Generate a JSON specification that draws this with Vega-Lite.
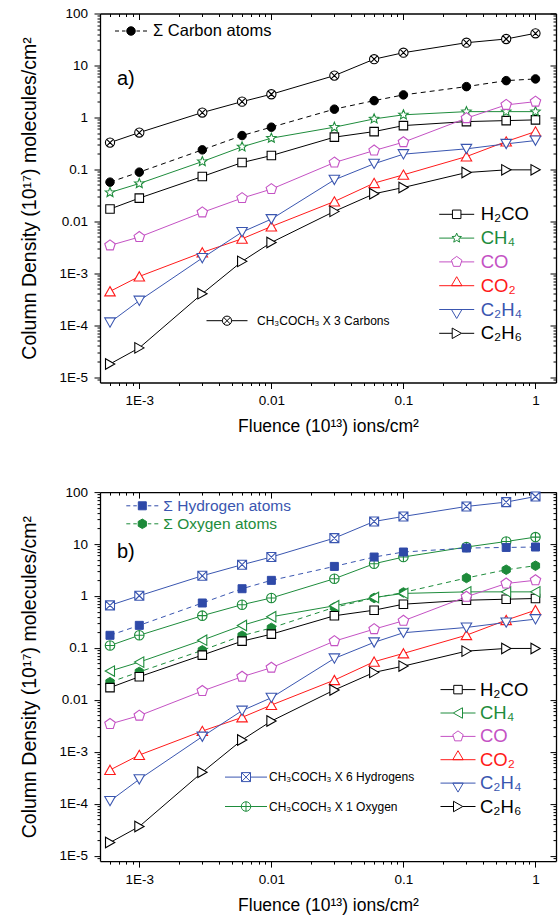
{
  "$schema": "https://vega.github.io/schema/vega-lite/v6.json",
  "padding": {"left": 19, "top": 6.5, "right": 1, "bottom": 5},
  "bounds": "flush",
  "spacing": 109.6,
  "config": {
    "view": {"stroke": null},
    "font": "Liberation Sans",
    "axis": {"domainColor": "#000000", "domainWidth": 1.3, "tickColor": "#000000", "tickWidth": 1, "grid": false, "labelFont": "Liberation Sans", "labelFontSize": 13.5, "labelColor": "#000000", "titleFont": "Liberation Sans", "titleFontSize": 19.5, "titleFontWeight": "normal", "titleColor": "#000000", "labelFlush": false, "labelOverlap": false, "labelBound": false},
    "legend": {"labelFont": "Liberation Sans", "labelColor": "#000000", "padding": 0, "labelLimit": 400, "title": null, "orient": "none", "symbolSize": 100, "symbolStrokeWidth": 1}
  },
  "datasets": {
    "pa": [
      {"g":"mol","s":"H₂CO","x":0.0006,"y":0.0172},{"g":"mol","s":"H₂CO","x":0.001,"y":0.0279},{"g":"mol","s":"H₂CO","x":0.003,"y":0.0727},{"g":"mol","s":"H₂CO","x":0.006,"y":0.135},{"g":"mol","s":"H₂CO","x":0.01,"y":0.184},{"g":"mol","s":"H₂CO","x":0.03,"y":0.416},{"g":"mol","s":"H₂CO","x":0.06,"y":0.533},{"g":"mol","s":"H₂CO","x":0.1,"y":0.695},{"g":"mol","s":"H₂CO","x":0.3,"y":0.83},{"g":"mol","s":"H₂CO","x":0.6,"y":0.867},{"g":"mol","s":"H₂CO","x":1,"y":0.895},
      {"g":"mol","s":"CH₄","x":0.0006,"y":0.0358},{"g":"mol","s":"CH₄","x":0.001,"y":0.0533},{"g":"mol","s":"CH₄","x":0.003,"y":0.141},{"g":"mol","s":"CH₄","x":0.006,"y":0.271},{"g":"mol","s":"CH₄","x":0.01,"y":0.398},{"g":"mol","s":"CH₄","x":0.03,"y":0.648},{"g":"mol","s":"CH₄","x":0.06,"y":0.935},{"g":"mol","s":"CH₄","x":0.1,"y":1.12},{"g":"mol","s":"CH₄","x":0.3,"y":1.29},{"g":"mol","s":"CH₄","x":0.6,"y":1.29},{"g":"mol","s":"CH₄","x":1,"y":1.29},
      {"g":"mol","s":"CO","x":0.0006,"y":0.00343},{"g":"mol","s":"CO","x":0.001,"y":0.00497},{"g":"mol","s":"CO","x":0.003,"y":0.0148},{"g":"mol","s":"CO","x":0.006,"y":0.0279},{"g":"mol","s":"CO","x":0.01,"y":0.0416},{"g":"mol","s":"CO","x":0.03,"y":0.135},{"g":"mol","s":"CO","x":0.06,"y":0.23},{"g":"mol","s":"CO","x":0.1,"y":0.333},{"g":"mol","s":"CO","x":0.3,"y":0.966},{"g":"mol","s":"CO","x":0.6,"y":1.74},{"g":"mol","s":"CO","x":1,"y":2.01},
      {"g":"mol","s":"CO₂","x":0.0006,"y":0.000447},{"g":"mol","s":"CO₂","x":0.001,"y":0.000867},{"g":"mol","s":"CO₂","x":0.003,"y":0.00251},{"g":"mol","s":"CO₂","x":0.006,"y":0.0046},{"g":"mol","s":"CO₂","x":0.01,"y":0.00794},{"g":"mol","s":"CO₂","x":0.03,"y":0.024},{"g":"mol","s":"CO₂","x":0.06,"y":0.0543},{"g":"mol","s":"CO₂","x":0.1,"y":0.0784},{"g":"mol","s":"CO₂","x":0.3,"y":0.176},{"g":"mol","s":"CO₂","x":0.6,"y":0.343},{"g":"mol","s":"CO₂","x":1,"y":0.533},
      {"g":"mol","s":"C₂H₄","x":0.0006,"y":0.000113},{"g":"mol","s":"C₂H₄","x":0.001,"y":0.000296},{"g":"mol","s":"C₂H₄","x":0.003,"y":0.00196},{"g":"mol","s":"C₂H₄","x":0.006,"y":0.0062},{"g":"mol","s":"C₂H₄","x":0.01,"y":0.011},{"g":"mol","s":"C₂H₄","x":0.03,"y":0.0628},{"g":"mol","s":"C₂H₄","x":0.06,"y":0.128},{"g":"mol","s":"C₂H₄","x":0.1,"y":0.196},{"g":"mol","s":"C₂H₄","x":0.3,"y":0.248},{"g":"mol","s":"C₂H₄","x":0.6,"y":0.309},{"g":"mol","s":"C₂H₄","x":1,"y":0.358},
      {"g":"mol","s":"C₂H₆","x":0.0006,"y":0.0000179},{"g":"mol","s":"C₂H₆","x":0.001,"y":0.0000365},{"g":"mol","s":"C₂H₆","x":0.003,"y":0.000404},{"g":"mol","s":"C₂H₆","x":0.006,"y":0.00169},{"g":"mol","s":"C₂H₆","x":0.01,"y":0.00391},{"g":"mol","s":"C₂H₆","x":0.03,"y":0.0155},{"g":"mol","s":"C₂H₆","x":0.06,"y":0.0338},{"g":"mol","s":"C₂H₆","x":0.1,"y":0.0447},{"g":"mol","s":"C₂H₆","x":0.3,"y":0.0867},{"g":"mol","s":"C₂H₆","x":0.6,"y":0.0977},{"g":"mol","s":"C₂H₆","x":1,"y":0.0977},
      {"g":"sum","s":"Σ Carbon atoms","x":0.0006,"y":0.0567},{"g":"sum","s":"Σ Carbon atoms","x":0.001,"y":0.0883},{"g":"sum","s":"Σ Carbon atoms","x":0.003,"y":0.237},{"g":"sum","s":"Σ Carbon atoms","x":0.006,"y":0.447},{"g":"sum","s":"Σ Carbon atoms","x":0.01,"y":0.648},{"g":"sum","s":"Σ Carbon atoms","x":0.03,"y":1.44},{"g":"sum","s":"Σ Carbon atoms","x":0.06,"y":2.1},{"g":"sum","s":"Σ Carbon atoms","x":0.1,"y":2.71},{"g":"sum","s":"Σ Carbon atoms","x":0.3,"y":3.91},{"g":"sum","s":"Σ Carbon atoms","x":0.6,"y":5.1},{"g":"sum","s":"Σ Carbon atoms","x":1,"y":5.5},
      {"g":"ac","s":"CH₃COCH₃  X 3 Carbons","x":0.0006,"y":0.327},{"g":"ac","s":"CH₃COCH₃  X 3 Carbons","x":0.001,"y":0.51},{"g":"ac","s":"CH₃COCH₃  X 3 Carbons","x":0.003,"y":1.24},{"g":"ac","s":"CH₃COCH₃  X 3 Carbons","x":0.006,"y":2.01},{"g":"ac","s":"CH₃COCH₃  X 3 Carbons","x":0.01,"y":2.79},{"g":"ac","s":"CH₃COCH₃  X 3 Carbons","x":0.03,"y":6.37},{"g":"ac","s":"CH₃COCH₃  X 3 Carbons","x":0.06,"y":13.2},{"g":"ac","s":"CH₃COCH₃  X 3 Carbons","x":0.1,"y":17.6},{"g":"ac","s":"CH₃COCH₃  X 3 Carbons","x":0.3,"y":27.4},{"g":"ac","s":"CH₃COCH₃  X 3 Carbons","x":0.6,"y":32.3},{"g":"ac","s":"CH₃COCH₃  X 3 Carbons","x":1,"y":41.6}
    ],
    "pb": [
      {"g":"mol","s":"H₂CO","x":0.0006,"y":0.0172},{"g":"mol","s":"H₂CO","x":0.001,"y":0.0279},{"g":"mol","s":"H₂CO","x":0.003,"y":0.0727},{"g":"mol","s":"H₂CO","x":0.006,"y":0.135},{"g":"mol","s":"H₂CO","x":0.01,"y":0.184},{"g":"mol","s":"H₂CO","x":0.03,"y":0.416},{"g":"mol","s":"H₂CO","x":0.06,"y":0.533},{"g":"mol","s":"H₂CO","x":0.1,"y":0.695},{"g":"mol","s":"H₂CO","x":0.3,"y":0.83},{"g":"mol","s":"H₂CO","x":0.6,"y":0.867},{"g":"mol","s":"H₂CO","x":1,"y":0.895},
      {"g":"mol","s":"CH₄","x":0.0006,"y":0.0358},{"g":"mol","s":"CH₄","x":0.001,"y":0.0533},{"g":"mol","s":"CH₄","x":0.003,"y":0.141},{"g":"mol","s":"CH₄","x":0.006,"y":0.271},{"g":"mol","s":"CH₄","x":0.01,"y":0.398},{"g":"mol","s":"CH₄","x":0.03,"y":0.648},{"g":"mol","s":"CH₄","x":0.06,"y":0.935},{"g":"mol","s":"CH₄","x":0.1,"y":1.12},{"g":"mol","s":"CH₄","x":0.3,"y":1.2},{"g":"mol","s":"CH₄","x":0.6,"y":1.2},{"g":"mol","s":"CH₄","x":1,"y":1.2},
      {"g":"mol","s":"CO","x":0.0006,"y":0.00343},{"g":"mol","s":"CO","x":0.001,"y":0.00497},{"g":"mol","s":"CO","x":0.003,"y":0.0148},{"g":"mol","s":"CO","x":0.006,"y":0.0279},{"g":"mol","s":"CO","x":0.01,"y":0.0416},{"g":"mol","s":"CO","x":0.03,"y":0.135},{"g":"mol","s":"CO","x":0.06,"y":0.23},{"g":"mol","s":"CO","x":0.1,"y":0.333},{"g":"mol","s":"CO","x":0.3,"y":0.966},{"g":"mol","s":"CO","x":0.6,"y":1.74},{"g":"mol","s":"CO","x":1,"y":2.01},
      {"g":"mol","s":"CO₂","x":0.0006,"y":0.000447},{"g":"mol","s":"CO₂","x":0.001,"y":0.000867},{"g":"mol","s":"CO₂","x":0.003,"y":0.00251},{"g":"mol","s":"CO₂","x":0.006,"y":0.0046},{"g":"mol","s":"CO₂","x":0.01,"y":0.00794},{"g":"mol","s":"CO₂","x":0.03,"y":0.024},{"g":"mol","s":"CO₂","x":0.06,"y":0.0543},{"g":"mol","s":"CO₂","x":0.1,"y":0.0784},{"g":"mol","s":"CO₂","x":0.3,"y":0.176},{"g":"mol","s":"CO₂","x":0.6,"y":0.343},{"g":"mol","s":"CO₂","x":1,"y":0.533},
      {"g":"mol","s":"C₂H₄","x":0.0006,"y":0.000113},{"g":"mol","s":"C₂H₄","x":0.001,"y":0.000296},{"g":"mol","s":"C₂H₄","x":0.003,"y":0.00196},{"g":"mol","s":"C₂H₄","x":0.006,"y":0.0062},{"g":"mol","s":"C₂H₄","x":0.01,"y":0.011},{"g":"mol","s":"C₂H₄","x":0.03,"y":0.0628},{"g":"mol","s":"C₂H₄","x":0.06,"y":0.128},{"g":"mol","s":"C₂H₄","x":0.1,"y":0.196},{"g":"mol","s":"C₂H₄","x":0.3,"y":0.248},{"g":"mol","s":"C₂H₄","x":0.6,"y":0.309},{"g":"mol","s":"C₂H₄","x":1,"y":0.358},
      {"g":"mol","s":"C₂H₆","x":0.0006,"y":0.0000179},{"g":"mol","s":"C₂H₆","x":0.001,"y":0.0000365},{"g":"mol","s":"C₂H₆","x":0.003,"y":0.000404},{"g":"mol","s":"C₂H₆","x":0.006,"y":0.00169},{"g":"mol","s":"C₂H₆","x":0.01,"y":0.00391},{"g":"mol","s":"C₂H₆","x":0.03,"y":0.0155},{"g":"mol","s":"C₂H₆","x":0.06,"y":0.0338},{"g":"mol","s":"C₂H₆","x":0.1,"y":0.0447},{"g":"mol","s":"C₂H₆","x":0.3,"y":0.0867},{"g":"mol","s":"C₂H₆","x":0.6,"y":0.0977},{"g":"mol","s":"C₂H₆","x":1,"y":0.0977},
      {"g":"sum","s":"Σ Hydrogen atoms","x":0.0006,"y":0.175},{"g":"sum","s":"Σ Hydrogen atoms","x":0.001,"y":0.272},{"g":"sum","s":"Σ Hydrogen atoms","x":0.003,"y":0.733},{"g":"sum","s":"Σ Hydrogen atoms","x":0.006,"y":1.38},{"g":"sum","s":"Σ Hydrogen atoms","x":0.01,"y":2.0},{"g":"sum","s":"Σ Hydrogen atoms","x":0.03,"y":3.71},{"g":"sum","s":"Σ Hydrogen atoms","x":0.06,"y":5.62},{"g":"sum","s":"Σ Hydrogen atoms","x":0.1,"y":7.02},{"g":"sum","s":"Σ Hydrogen atoms","x":0.3,"y":8.38},{"g":"sum","s":"Σ Hydrogen atoms","x":0.6,"y":8.6},{"g":"sum","s":"Σ Hydrogen atoms","x":1,"y":8.76},
      {"g":"sum","s":"Σ Oxygen atoms","x":0.0006,"y":0.0219},{"g":"sum","s":"Σ Oxygen atoms","x":0.001,"y":0.0345},{"g":"sum","s":"Σ Oxygen atoms","x":0.003,"y":0.09},{"g":"sum","s":"Σ Oxygen atoms","x":0.006,"y":0.172},{"g":"sum","s":"Σ Oxygen atoms","x":0.01,"y":0.243},{"g":"sum","s":"Σ Oxygen atoms","x":0.03,"y":0.604},{"g":"sum","s":"Σ Oxygen atoms","x":0.06,"y":0.916},{"g":"sum","s":"Σ Oxygen atoms","x":0.1,"y":1.17},{"g":"sum","s":"Σ Oxygen atoms","x":0.3,"y":2.22},{"g":"sum","s":"Σ Oxygen atoms","x":0.6,"y":3.2},{"g":"sum","s":"Σ Oxygen atoms","x":1,"y":3.83},
      {"g":"ac","s":"CH₃COCH₃ X 6 Hydrogens","x":0.0006,"y":0.66},{"g":"ac","s":"CH₃COCH₃ X 6 Hydrogens","x":0.001,"y":1.01},{"g":"ac","s":"CH₃COCH₃ X 6 Hydrogens","x":0.003,"y":2.45},{"g":"ac","s":"CH₃COCH₃ X 6 Hydrogens","x":0.006,"y":4.0},{"g":"ac","s":"CH₃COCH₃ X 6 Hydrogens","x":0.01,"y":5.62},{"g":"ac","s":"CH₃COCH₃ X 6 Hydrogens","x":0.03,"y":13.0},{"g":"ac","s":"CH₃COCH₃ X 6 Hydrogens","x":0.06,"y":27.2},{"g":"ac","s":"CH₃COCH₃ X 6 Hydrogens","x":0.1,"y":34.0},{"g":"ac","s":"CH₃COCH₃ X 6 Hydrogens","x":0.3,"y":52.9},{"g":"ac","s":"CH₃COCH₃ X 6 Hydrogens","x":0.6,"y":64.2},{"g":"ac","s":"CH₃COCH₃ X 6 Hydrogens","x":1,"y":82.3},
      {"g":"ac","s":"CH₃COCH₃  X 1 Oxygen","x":0.0006,"y":0.111},{"g":"ac","s":"CH₃COCH₃  X 1 Oxygen","x":0.001,"y":0.175},{"g":"ac","s":"CH₃COCH₃  X 1 Oxygen","x":0.003,"y":0.418},{"g":"ac","s":"CH₃COCH₃  X 1 Oxygen","x":0.006,"y":0.68},{"g":"ac","s":"CH₃COCH₃  X 1 Oxygen","x":0.01,"y":0.916},{"g":"ac","s":"CH₃COCH₃  X 1 Oxygen","x":0.03,"y":2.15},{"g":"ac","s":"CH₃COCH₃  X 1 Oxygen","x":0.06,"y":4.18},{"g":"ac","s":"CH₃COCH₃  X 1 Oxygen","x":0.1,"y":5.62},{"g":"ac","s":"CH₃COCH₃  X 1 Oxygen","x":0.3,"y":8.76},{"g":"ac","s":"CH₃COCH₃  X 1 Oxygen","x":0.6,"y":11.2},{"g":"ac","s":"CH₃COCH₃  X 1 Oxygen","x":1,"y":13.6}
    ]
  },
  "vconcat": [
    {
      "width": 456, "height": 369,
      "title": {"text": "a)", "anchor": "start", "orient": "top", "frame": "group", "offset": 0, "dx": 17, "dy": 98, "baseline": "alphabetic", "fontSize": 20, "fontWeight": "normal", "font": "Liberation Sans", "color": "#000000"},
      "data": {"name": "pa"},
      "layer": [
        {"mark": {"type": "point", "opacity": 0},
         "encoding": {
           "x": {"field": "x", "type": "quantitative", "scale": {"type": "log", "domain": [0.000504, 1.43], "nice": false},
                 "axis": {"orient": "bottom", "values": [0.0006,0.0007,0.0008,0.0009,0.001,0.002,0.003,0.004,0.005,0.006,0.007,0.008,0.009,0.01,0.02,0.03,0.04,0.05,0.06,0.07,0.08,0.09,0.1,0.2,0.3,0.4,0.5,0.6,0.7,0.8,0.9,1],
                          "tickSize": {"condition": {"test": "abs(log(datum.value)/LN10 - round(log(datum.value)/LN10)) < 0.001", "value": 6}, "value": 3},
                          "labelExpr": "abs(log(datum.value)/LN10 - round(log(datum.value)/LN10)) < 0.001 ? (datum.value >= 0.01 ? '' + datum.value : '1E' + round(log(datum.value)/LN10)) : ''",
                          "labelPadding": 5, "title": "Fluence (10¹³) ions/cm²", "titleFontSize": 17.5, "titleY": 49, "titleBaseline": "alphabetic"}},
           "y": {"field": "y", "type": "quantitative", "scale": {"type": "log", "domain": [0.00000787, 100], "nice": false},
                 "axis": {"orient": "left", "values": [0.000009,0.00001,0.00002,0.00003,0.00004,0.00005,0.00006,0.00007,0.00008,0.00009,0.0001,0.0002,0.0003,0.0004,0.0005,0.0006,0.0007,0.0008,0.0009,0.001,0.002,0.003,0.004,0.005,0.006,0.007,0.008,0.009,0.01,0.02,0.03,0.04,0.05,0.06,0.07,0.08,0.09,0.1,0.2,0.3,0.4,0.5,0.6,0.7,0.8,0.9,1,2,3,4,5,6,7,8,9,10,20,30,40,50,60,70,80,90,100],
                          "tickSize": {"condition": {"test": "abs(log(datum.value)/LN10 - round(log(datum.value)/LN10)) < 0.001", "value": 6}, "value": 3},
                          "labelExpr": "abs(log(datum.value)/LN10 - round(log(datum.value)/LN10)) < 0.001 ? (datum.value >= 0.01 ? '' + datum.value : '1E' + round(log(datum.value)/LN10)) : ''",
                          "labelPadding": 6.5, "title": "Column Density (10¹⁷) molecules/cm²", "titleX": -65, "titleBaseline": "alphabetic"}}
         }},
        {"mark": {"type": "point", "opacity": 0},
         "encoding": {
           "x": {"field": "x", "type": "quantitative", "scale": {"type": "log", "domain": [0.000504, 1.43], "nice": false},
                 "axis": {"orient": "top", "values": [0.0006,0.0007,0.0008,0.0009,0.001,0.002,0.003,0.004,0.005,0.006,0.007,0.008,0.009,0.01,0.02,0.03,0.04,0.05,0.06,0.07,0.08,0.09,0.1,0.2,0.3,0.4,0.5,0.6,0.7,0.8,0.9,1],
                          "tickSize": {"condition": {"test": "abs(log(datum.value)/LN10 - round(log(datum.value)/LN10)) < 0.001", "value": -6}, "value": -3},
                          "labels": false, "title": null}},
           "y": {"field": "y", "type": "quantitative", "scale": {"type": "log", "domain": [0.00000787, 100], "nice": false},
                 "axis": {"orient": "right", "values": [0.000009,0.00001,0.00002,0.00003,0.00004,0.00005,0.00006,0.00007,0.00008,0.00009,0.0001,0.0002,0.0003,0.0004,0.0005,0.0006,0.0007,0.0008,0.0009,0.001,0.002,0.003,0.004,0.005,0.006,0.007,0.008,0.009,0.01,0.02,0.03,0.04,0.05,0.06,0.07,0.08,0.09,0.1,0.2,0.3,0.4,0.5,0.6,0.7,0.8,0.9,1,2,3,4,5,6,7,8,9,10,20,30,40,50,60,70,80,90,100],
                          "tickSize": {"condition": {"test": "abs(log(datum.value)/LN10 - round(log(datum.value)/LN10)) < 0.001", "value": -6}, "value": -3},
                          "labels": false, "title": null}}
         }},
        {"transform": [{"filter": "datum.g === 'ac'"}],
         "layer": [
           {"mark": {"type": "line", "strokeWidth": 1, "opacity": 1, "stroke": "#000000"},
            "encoding": {
              "x": {"field": "x", "type": "quantitative", "scale": {"type": "log", "domain": [0.000504, 1.43], "nice": false}, "axis": null},
              "y": {"field": "y", "type": "quantitative", "scale": {"type": "log", "domain": [0.00000787, 100], "nice": false}, "axis": null},
              "detail": {"field": "s"}}},
           {"mark": {"type": "point", "filled": true, "fill": "white", "stroke": "#000000", "strokeWidth": 1.1, "size": 100, "opacity": 1, "shape": "M0.92,0A0.92,0.92,0,1,1,-0.92,0A0.92,0.92,0,1,1,0.92,0ZM-0.65,-0.65L0.65,0.65M-0.65,0.65L0.65,-0.65"},
            "encoding": {
              "x": {"field": "x", "type": "quantitative", "scale": {"type": "log", "domain": [0.000504, 1.43], "nice": false}, "axis": null},
              "y": {"field": "y", "type": "quantitative", "scale": {"type": "log", "domain": [0.00000787, 100], "nice": false}, "axis": null}}}
         ]},
        {"transform": [{"filter": "datum.g === 'sum'"}],
         "layer": [
           {"mark": {"type": "line", "strokeWidth": 1, "opacity": 1, "strokeDash": [5, 4], "stroke": "#000000"},
            "encoding": {
              "x": {"field": "x", "type": "quantitative", "scale": {"type": "log", "domain": [0.000504, 1.43], "nice": false}, "axis": null},
              "y": {"field": "y", "type": "quantitative", "scale": {"type": "log", "domain": [0.00000787, 100], "nice": false}, "axis": null},
              "detail": {"field": "s"}}},
           {"mark": {"type": "point", "filled": true, "fill": "#000000", "stroke": "#000000", "strokeWidth": 1, "size": 100, "opacity": 1, "shape": "M0.85,0A0.85,0.85,0,1,1,-0.85,0A0.85,0.85,0,1,1,0.85,0Z"},
            "encoding": {
              "x": {"field": "x", "type": "quantitative", "scale": {"type": "log", "domain": [0.000504, 1.43], "nice": false}, "axis": null},
              "y": {"field": "y", "type": "quantitative", "scale": {"type": "log", "domain": [0.00000787, 100], "nice": false}, "axis": null}}}
         ]},
        {"transform": [{"filter": "datum.g === 'mol'"}],
         "layer": [
           {"mark": {"type": "line", "strokeWidth": 1, "opacity": 1},
            "encoding": {
              "x": {"field": "x", "type": "quantitative", "scale": {"type": "log", "domain": [0.000504, 1.43], "nice": false}, "axis": null},
              "y": {"field": "y", "type": "quantitative", "scale": {"type": "log", "domain": [0.00000787, 100], "nice": false}, "axis": null},
              "detail": {"field": "s"},
              "stroke": {"condition": [{"test": "datum.s === 'CH₄'", "value": "#1e8c3c"}, {"test": "datum.s === 'CO'", "value": "#c452c4"}, {"test": "datum.s === 'CO₂'", "value": "#ff1a1a"}, {"test": "datum.s === 'C₂H₄'", "value": "#3a56b0"}], "value": "#000000"}}},
           {"mark": {"type": "point", "filled": true, "fill": "white", "strokeWidth": 1.1, "size": 100, "opacity": 1},
            "encoding": {
              "x": {"field": "x", "type": "quantitative", "scale": {"type": "log", "domain": [0.000504, 1.43], "nice": false}, "axis": null},
              "y": {"field": "y", "type": "quantitative", "scale": {"type": "log", "domain": [0.00000787, 100], "nice": false}, "axis": null},
              "stroke": {"condition": [{"test": "datum.s === 'CH₄'", "value": "#1e8c3c"}, {"test": "datum.s === 'CO'", "value": "#c452c4"}, {"test": "datum.s === 'CO₂'", "value": "#ff1a1a"}, {"test": "datum.s === 'C₂H₄'", "value": "#3a56b0"}], "value": "#000000"},
              "shape": {"field": "s", "type": "nominal", "scale": {"domain": ["H₂CO", "CH₄", "CO", "CO₂", "C₂H₄", "C₂H₆"], "range": ["M-0.85,-0.85H0.85V0.85H-0.85Z", "M0,-1L0.265,-0.364L0.951,-0.309L0.428,0.139L0.588,0.809L0,0.45L-0.588,0.809L-0.428,0.139L-0.951,-0.309L-0.265,-0.364Z", "M0,-1.1L1.046,-0.34L0.647,0.89L-0.647,0.89L-1.046,-0.34Z", "M0,-0.95L1.05,0.9L-1.05,0.9Z", "M0,0.95L1.05,-0.9L-1.05,-0.9Z", "M0.95,0L-0.9,1.05L-0.9,-1.05Z"]}, "legend": null}}}
         ]},
        {"transform": [{"filter": "false"}], "mark": {"type": "point", "filled": true, "fill": "#000000", "strokeWidth": 1, "size": 100, "opacity": 1},
         "encoding": {"stroke": {"field": "s", "type": "nominal", "scale": {"domain": ["Σ Carbon atoms"], "range": ["#000000"]},
           "legend": {"legendX": 22.75, "legendY": 9.25, "labelFontSize": 16.5, "labelOffset": 13.75, "labelColor": "#000000", "symbolFillColor": "#000000",
                      "symbolType": "M-3.2,0H-2.4M-1.8,0H-1.1M1.1,0H1.8M2.4,0H3.2M0.85,0A0.85,0.85,0,1,1,-0.85,0A0.85,0.85,0,1,1,0.85,0ZM0.65,0A0.65,0.65,0,1,1,-0.65,0A0.65,0.65,0,1,1,0.65,0ZM0.45,0A0.45,0.45,0,1,1,-0.45,0A0.45,0.45,0,1,1,0.45,0ZM0.25,0A0.25,0.25,0,1,1,-0.25,0A0.25,0.25,0,1,1,0.25,0ZM0.08,0A0.08,0.08,0,1,1,-0.08,0A0.08,0.08,0,1,1,0.08,0Z"}}}},
        {"transform": [{"filter": "false"}], "mark": {"type": "point", "filled": true, "fill": "white", "strokeWidth": 1, "size": 100, "opacity": 1},
         "encoding": {"stroke": {"field": "s", "type": "nominal", "scale": {"domain": ["CH₃COCH₃  X 3 Carbons"], "range": ["#000000"]},
           "legend": {"legendX": 121, "legendY": 301.2, "labelFontSize": 12, "labelOffset": 24, "labelColor": "#000000", "symbolFillColor": "white",
                      "symbolType": "M-4.1,0H-0.92M0.92,0H4.1M0.92,0A0.92,0.92,0,1,1,-0.92,0A0.92,0.92,0,1,1,0.92,0ZM-0.65,-0.65L0.65,0.65M-0.65,0.65L0.65,-0.65"}}}},
        {"transform": [{"filter": "false"}], "mark": {"type": "point", "filled": true, "fill": "white", "strokeWidth": 1, "size": 100, "opacity": 1},
         "encoding": {"stroke": {"field": "s", "type": "nominal", "scale": {"domain": ["H₂CO"], "range": ["#000000"]},
           "legend": {"legendX": 347.45, "legendY": 191.55, "labelFontSize": 18.5, "labelOffset": 14.75, "labelColor": "#000000", "symbolFillColor": "white",
                      "symbolType": "M-3.5,0H-0.85M0.85,0H3.5M-0.85,-0.85H0.85V0.85H-0.85Z"}}}},
        {"transform": [{"filter": "false"}], "mark": {"type": "point", "filled": true, "fill": "white", "strokeWidth": 1, "size": 100, "opacity": 1},
         "encoding": {"stroke": {"field": "s", "type": "nominal", "scale": {"domain": ["CH₄"], "range": ["#1e8c3c"]},
           "legend": {"legendX": 347.45, "legendY": 215.35, "labelFontSize": 18.5, "labelOffset": 14.75, "labelColor": "#1e8c3c", "symbolFillColor": "white",
                      "symbolType": "M-3.5,0H-0.59M0.59,0H3.5M0,-1L0.265,-0.364L0.951,-0.309L0.428,0.139L0.588,0.809L0,0.45L-0.588,0.809L-0.428,0.139L-0.951,-0.309L-0.265,-0.364Z"}}}},
        {"transform": [{"filter": "false"}], "mark": {"type": "point", "filled": true, "fill": "white", "strokeWidth": 1, "size": 100, "opacity": 1},
         "encoding": {"stroke": {"field": "s", "type": "nominal", "scale": {"domain": ["CO"], "range": ["#c452c4"]},
           "legend": {"legendX": 347.45, "legendY": 239.15, "labelFontSize": 18.5, "labelOffset": 14.75, "labelColor": "#c452c4", "symbolFillColor": "white",
                      "symbolType": "M-3.5,0H-0.94M0.94,0H3.5M0,-1.1L1.046,-0.34L0.647,0.89L-0.647,0.89L-1.046,-0.34Z"}}}},
        {"transform": [{"filter": "false"}], "mark": {"type": "point", "filled": true, "fill": "white", "strokeWidth": 1, "size": 100, "opacity": 1},
         "encoding": {"stroke": {"field": "s", "type": "nominal", "scale": {"domain": ["CO₂"], "range": ["#ff1a1a"]},
           "legend": {"legendX": 347.45, "legendY": 262.95, "labelFontSize": 18.5, "labelOffset": 14.75, "labelColor": "#ff1a1a", "symbolFillColor": "white",
                      "symbolType": "M-3.5,0H3.5M0,-1.8L1.05,0L-1.05,0Z"}}}},
        {"transform": [{"filter": "false"}], "mark": {"type": "point", "filled": true, "fill": "white", "strokeWidth": 1, "size": 100, "opacity": 1},
         "encoding": {"stroke": {"field": "s", "type": "nominal", "scale": {"domain": ["C₂H₄"], "range": ["#3a56b0"]},
           "legend": {"legendX": 347.45, "legendY": 286.75, "labelFontSize": 18.5, "labelOffset": 14.75, "labelColor": "#3a56b0", "symbolFillColor": "white",
                      "symbolType": "M-3.5,0H3.5M0,1.8L1.05,0L-1.05,0Z"}}}},
        {"transform": [{"filter": "false"}], "mark": {"type": "point", "filled": true, "fill": "white", "strokeWidth": 1, "size": 100, "opacity": 1},
         "encoding": {"stroke": {"field": "s", "type": "nominal", "scale": {"domain": ["C₂H₆"], "range": ["#000000"]},
           "legend": {"legendX": 347.45, "legendY": 310.55, "labelFontSize": 18.5, "labelOffset": 14.75, "labelColor": "#000000", "symbolFillColor": "white",
                      "symbolType": "M-3.5,0H-0.9M0.95,0H3.5M0.95,0L-0.9,1.05L-0.9,-1.05Z"}}}}
      ],
      "resolve": {"axis": {"x": "independent", "y": "independent"}, "scale": {"shape": "independent", "stroke": "independent"}, "legend": {"shape": "independent", "stroke": "independent"}}
    },
    {
      "width": 456, "height": 369,
      "title": {"text": "b)", "anchor": "start", "orient": "top", "frame": "group", "offset": 0, "dx": 17, "dy": 93, "baseline": "alphabetic", "fontSize": 20, "fontWeight": "normal", "font": "Liberation Sans", "color": "#000000"},
      "data": {"name": "pb"},
      "layer": [
        {"mark": {"type": "point", "opacity": 0},
         "encoding": {
           "x": {"field": "x", "type": "quantitative", "scale": {"type": "log", "domain": [0.000504, 1.43], "nice": false},
                 "axis": {"orient": "bottom", "values": [0.0006,0.0007,0.0008,0.0009,0.001,0.002,0.003,0.004,0.005,0.006,0.007,0.008,0.009,0.01,0.02,0.03,0.04,0.05,0.06,0.07,0.08,0.09,0.1,0.2,0.3,0.4,0.5,0.6,0.7,0.8,0.9,1],
                          "tickSize": {"condition": {"test": "abs(log(datum.value)/LN10 - round(log(datum.value)/LN10)) < 0.001", "value": 6}, "value": 3},
                          "labelExpr": "abs(log(datum.value)/LN10 - round(log(datum.value)/LN10)) < 0.001 ? (datum.value >= 0.01 ? '' + datum.value : '1E' + round(log(datum.value)/LN10)) : ''",
                          "labelPadding": 5, "title": "Fluence (10¹³) ions/cm²", "titleFontSize": 17.5, "titleY": 49, "titleBaseline": "alphabetic"}},
           "y": {"field": "y", "type": "quantitative", "scale": {"type": "log", "domain": [0.00000787, 100], "nice": false},
                 "axis": {"orient": "left", "values": [0.000009,0.00001,0.00002,0.00003,0.00004,0.00005,0.00006,0.00007,0.00008,0.00009,0.0001,0.0002,0.0003,0.0004,0.0005,0.0006,0.0007,0.0008,0.0009,0.001,0.002,0.003,0.004,0.005,0.006,0.007,0.008,0.009,0.01,0.02,0.03,0.04,0.05,0.06,0.07,0.08,0.09,0.1,0.2,0.3,0.4,0.5,0.6,0.7,0.8,0.9,1,2,3,4,5,6,7,8,9,10,20,30,40,50,60,70,80,90,100],
                          "tickSize": {"condition": {"test": "abs(log(datum.value)/LN10 - round(log(datum.value)/LN10)) < 0.001", "value": 6}, "value": 3},
                          "labelExpr": "abs(log(datum.value)/LN10 - round(log(datum.value)/LN10)) < 0.001 ? (datum.value >= 0.01 ? '' + datum.value : '1E' + round(log(datum.value)/LN10)) : ''",
                          "labelPadding": 6.5, "title": "Column Density (10¹⁷) molecules/cm²", "titleX": -65, "titleBaseline": "alphabetic"}}
         }},
        {"mark": {"type": "point", "opacity": 0},
         "encoding": {
           "x": {"field": "x", "type": "quantitative", "scale": {"type": "log", "domain": [0.000504, 1.43], "nice": false},
                 "axis": {"orient": "top", "values": [0.0006,0.0007,0.0008,0.0009,0.001,0.002,0.003,0.004,0.005,0.006,0.007,0.008,0.009,0.01,0.02,0.03,0.04,0.05,0.06,0.07,0.08,0.09,0.1,0.2,0.3,0.4,0.5,0.6,0.7,0.8,0.9,1],
                          "tickSize": {"condition": {"test": "abs(log(datum.value)/LN10 - round(log(datum.value)/LN10)) < 0.001", "value": -6}, "value": -3},
                          "labels": false, "title": null}},
           "y": {"field": "y", "type": "quantitative", "scale": {"type": "log", "domain": [0.00000787, 100], "nice": false},
                 "axis": {"orient": "right", "values": [0.000009,0.00001,0.00002,0.00003,0.00004,0.00005,0.00006,0.00007,0.00008,0.00009,0.0001,0.0002,0.0003,0.0004,0.0005,0.0006,0.0007,0.0008,0.0009,0.001,0.002,0.003,0.004,0.005,0.006,0.007,0.008,0.009,0.01,0.02,0.03,0.04,0.05,0.06,0.07,0.08,0.09,0.1,0.2,0.3,0.4,0.5,0.6,0.7,0.8,0.9,1,2,3,4,5,6,7,8,9,10,20,30,40,50,60,70,80,90,100],
                          "tickSize": {"condition": {"test": "abs(log(datum.value)/LN10 - round(log(datum.value)/LN10)) < 0.001", "value": -6}, "value": -3},
                          "labels": false, "title": null}}
         }},
        {"transform": [{"filter": "datum.g === 'ac'"}],
         "layer": [
           {"mark": {"type": "line", "strokeWidth": 1, "opacity": 1},
            "encoding": {
              "x": {"field": "x", "type": "quantitative", "scale": {"type": "log", "domain": [0.000504, 1.43], "nice": false}, "axis": null},
              "y": {"field": "y", "type": "quantitative", "scale": {"type": "log", "domain": [0.00000787, 100], "nice": false}, "axis": null},
              "detail": {"field": "s"},
              "stroke": {"condition": [{"test": "datum.s === 'CH₃COCH₃ X 6 Hydrogens'", "value": "#3a56b0"}], "value": "#1e8c3c"}}},
           {"mark": {"type": "point", "filled": true, "fill": "white", "strokeWidth": 1.1, "size": 100, "opacity": 1},
            "encoding": {
              "x": {"field": "x", "type": "quantitative", "scale": {"type": "log", "domain": [0.000504, 1.43], "nice": false}, "axis": null},
              "y": {"field": "y", "type": "quantitative", "scale": {"type": "log", "domain": [0.00000787, 100], "nice": false}, "axis": null},
              "stroke": {"condition": [{"test": "datum.s === 'CH₃COCH₃ X 6 Hydrogens'", "value": "#3a56b0"}], "value": "#1e8c3c"},
              "shape": {"field": "s", "type": "nominal", "scale": {"domain": ["CH₃COCH₃ X 6 Hydrogens", "CH₃COCH₃  X 1 Oxygen"], "range": ["M-0.9,-0.9H0.9V0.9H-0.9ZM-0.9,-0.9L0.9,0.9M-0.9,0.9L0.9,-0.9", "M0.95,0A0.95,0.95,0,1,1,-0.95,0A0.95,0.95,0,1,1,0.95,0ZM-0.95,0H0.95M0,-0.95V0.95"]}, "legend": null}}}
         ]},
        {"transform": [{"filter": "datum.g === 'sum'"}],
         "layer": [
           {"mark": {"type": "line", "strokeWidth": 1, "opacity": 1, "strokeDash": [5, 4]},
            "encoding": {
              "x": {"field": "x", "type": "quantitative", "scale": {"type": "log", "domain": [0.000504, 1.43], "nice": false}, "axis": null},
              "y": {"field": "y", "type": "quantitative", "scale": {"type": "log", "domain": [0.00000787, 100], "nice": false}, "axis": null},
              "detail": {"field": "s"},
              "stroke": {"condition": [{"test": "datum.s === 'Σ Hydrogen atoms'", "value": "#3a56b0"}], "value": "#1e8c3c"}}},
           {"mark": {"type": "point", "filled": true, "strokeWidth": 1, "size": 100, "opacity": 1},
            "encoding": {
              "x": {"field": "x", "type": "quantitative", "scale": {"type": "log", "domain": [0.000504, 1.43], "nice": false}, "axis": null},
              "y": {"field": "y", "type": "quantitative", "scale": {"type": "log", "domain": [0.00000787, 100], "nice": false}, "axis": null},
              "stroke": {"condition": [{"test": "datum.s === 'Σ Hydrogen atoms'", "value": "#2f4aa8"}], "value": "#1d8a3a"},
              "fill": {"condition": [{"test": "datum.s === 'Σ Hydrogen atoms'", "value": "#2f4aa8"}], "value": "#1d8a3a"},
              "shape": {"field": "s", "type": "nominal", "scale": {"domain": ["Σ Hydrogen atoms", "Σ Oxygen atoms"], "range": ["M-0.8,-0.8H0.8V0.8H-0.8Z", "M0,-0.95L0.82,-0.475L0.82,0.475L0,0.95L-0.82,0.475L-0.82,-0.475Z"]}, "legend": null}}}
         ]},
        {"transform": [{"filter": "datum.g === 'mol'"}],
         "layer": [
           {"mark": {"type": "line", "strokeWidth": 1, "opacity": 1},
            "encoding": {
              "x": {"field": "x", "type": "quantitative", "scale": {"type": "log", "domain": [0.000504, 1.43], "nice": false}, "axis": null},
              "y": {"field": "y", "type": "quantitative", "scale": {"type": "log", "domain": [0.00000787, 100], "nice": false}, "axis": null},
              "detail": {"field": "s"},
              "stroke": {"condition": [{"test": "datum.s === 'CH₄'", "value": "#1e8c3c"}, {"test": "datum.s === 'CO'", "value": "#c452c4"}, {"test": "datum.s === 'CO₂'", "value": "#ff1a1a"}, {"test": "datum.s === 'C₂H₄'", "value": "#3a56b0"}], "value": "#000000"}}},
           {"mark": {"type": "point", "filled": true, "fill": "white", "strokeWidth": 1.1, "size": 100, "opacity": 1},
            "encoding": {
              "x": {"field": "x", "type": "quantitative", "scale": {"type": "log", "domain": [0.000504, 1.43], "nice": false}, "axis": null},
              "y": {"field": "y", "type": "quantitative", "scale": {"type": "log", "domain": [0.00000787, 100], "nice": false}, "axis": null},
              "stroke": {"condition": [{"test": "datum.s === 'CH₄'", "value": "#1e8c3c"}, {"test": "datum.s === 'CO'", "value": "#c452c4"}, {"test": "datum.s === 'CO₂'", "value": "#ff1a1a"}, {"test": "datum.s === 'C₂H₄'", "value": "#3a56b0"}], "value": "#000000"},
              "shape": {"field": "s", "type": "nominal", "scale": {"domain": ["H₂CO", "CH₄", "CO", "CO₂", "C₂H₄", "C₂H₆"], "range": ["M-0.85,-0.85H0.85V0.85H-0.85Z", "M-0.95,0L0.9,1.05L0.9,-1.05Z", "M0,-1.1L1.046,-0.34L0.647,0.89L-0.647,0.89L-1.046,-0.34Z", "M0,-0.95L1.05,0.9L-1.05,0.9Z", "M0,0.95L1.05,-0.9L-1.05,-0.9Z", "M0.95,0L-0.9,1.05L-0.9,-1.05Z"]}, "legend": null}}}
         ]},
        {"transform": [{"filter": "false"}], "mark": {"type": "point", "filled": true, "fill": "#2f4aa8", "strokeWidth": 1, "size": 100, "opacity": 1},
         "encoding": {"stroke": {"field": "s", "type": "nominal", "scale": {"domain": ["Σ Hydrogen atoms"], "range": ["#2f4aa8"]},
           "legend": {"legendX": 34.55, "legendY": 5.95, "labelFontSize": 15.5, "labelOffset": 13.25, "labelColor": "#3a56b0", "symbolFillColor": "#2f4aa8",
                      "symbolType": "M-3.2,0H-2.4M-1.8,0H-1.1M1.1,0H1.8M2.4,0H3.2M-0.8,-0.8H0.8V0.8H-0.8ZM-0.55,-0.55H0.55V0.55H-0.55ZM-0.3,-0.3H0.3V0.3H-0.3ZM-0.08,-0.08H0.08V0.08H-0.08Z"}}}},
        {"transform": [{"filter": "false"}], "mark": {"type": "point", "filled": true, "fill": "#1d8a3a", "strokeWidth": 1, "size": 100, "opacity": 1},
         "encoding": {"stroke": {"field": "s", "type": "nominal", "scale": {"domain": ["Σ Oxygen atoms"], "range": ["#1d8a3a"]},
           "legend": {"legendX": 34.55, "legendY": 23.95, "labelFontSize": 15.5, "labelOffset": 13.25, "labelColor": "#1e8c3c", "symbolFillColor": "#1d8a3a",
                      "symbolType": "M-3.2,0H-2.4M-1.8,0H-1.1M1.1,0H1.8M2.4,0H3.2M0,-0.95L0.823,-0.475L0.823,0.475L0,0.95L-0.823,0.475L-0.823,-0.475ZM0,-0.7L0.606,-0.35L0.606,0.35L0,0.7L-0.606,0.35L-0.606,-0.35ZM0,-0.45L0.39,-0.225L0.39,0.225L0,0.45L-0.39,0.225L-0.39,-0.225ZM0,-0.2L0.173,-0.1L0.173,0.1L0,0.2L-0.173,0.1L-0.173,-0.1Z"}}}},
        {"transform": [{"filter": "false"}], "mark": {"type": "point", "filled": true, "fill": "white", "strokeWidth": 1, "size": 100, "opacity": 1},
         "encoding": {"stroke": {"field": "s", "type": "nominal", "scale": {"domain": ["CH₃COCH₃ X 6 Hydrogens"], "range": ["#3a56b0"]},
           "legend": {"legendX": 140, "legendY": 279, "labelFontSize": 12, "labelOffset": 17, "labelColor": "#000000", "symbolFillColor": "white",
                      "symbolType": "M-4.2,0H-0.9M0.9,0H4.2M-0.9,-0.9H0.9V0.9H-0.9ZM-0.9,-0.9L0.9,0.9M-0.9,0.9L0.9,-0.9"}}}},
        {"transform": [{"filter": "false"}], "mark": {"type": "point", "filled": true, "fill": "white", "strokeWidth": 1, "size": 100, "opacity": 1},
         "encoding": {"stroke": {"field": "s", "type": "nominal", "scale": {"domain": ["CH₃COCH₃  X 1 Oxygen"], "range": ["#1e8c3c"]},
           "legend": {"legendX": 140, "legendY": 308.4, "labelFontSize": 12, "labelOffset": 17, "labelColor": "#000000", "symbolFillColor": "white",
                      "symbolType": "M-4.2,0H-0.95M0.95,0H4.2M0.95,0A0.95,0.95,0,1,1,-0.95,0A0.95,0.95,0,1,1,0.95,0ZM-0.95,0H0.95M0,-0.95V0.95"}}}},
        {"transform": [{"filter": "false"}], "mark": {"type": "point", "filled": true, "fill": "white", "strokeWidth": 1, "size": 100, "opacity": 1},
         "encoding": {"stroke": {"field": "s", "type": "nominal", "scale": {"domain": ["H₂CO"], "range": ["#000000"]},
           "legend": {"legendX": 348.75, "legendY": 188.25, "labelFontSize": 18.5, "labelOffset": 12.75, "labelColor": "#000000", "symbolFillColor": "white",
                      "symbolType": "M-3.5,0H-0.85M0.85,0H3.5M-0.85,-0.85H0.85V0.85H-0.85Z"}}}},
        {"transform": [{"filter": "false"}], "mark": {"type": "point", "filled": true, "fill": "white", "strokeWidth": 1, "size": 100, "opacity": 1},
         "encoding": {"stroke": {"field": "s", "type": "nominal", "scale": {"domain": ["CH₄"], "range": ["#1e8c3c"]},
           "legend": {"legendX": 348.75, "legendY": 211.65, "labelFontSize": 18.5, "labelOffset": 12.75, "labelColor": "#1e8c3c", "symbolFillColor": "white",
                      "symbolType": "M-3.5,0H-0.95M0.9,0H3.5M-0.95,0L0.9,1.05L0.9,-1.05Z"}}}},
        {"transform": [{"filter": "false"}], "mark": {"type": "point", "filled": true, "fill": "white", "strokeWidth": 1, "size": 100, "opacity": 1},
         "encoding": {"stroke": {"field": "s", "type": "nominal", "scale": {"domain": ["CO"], "range": ["#c452c4"]},
           "legend": {"legendX": 348.75, "legendY": 235.05, "labelFontSize": 18.5, "labelOffset": 12.75, "labelColor": "#c452c4", "symbolFillColor": "white",
                      "symbolType": "M-3.5,0H-0.94M0.94,0H3.5M0,-1.1L1.046,-0.34L0.647,0.89L-0.647,0.89L-1.046,-0.34Z"}}}},
        {"transform": [{"filter": "false"}], "mark": {"type": "point", "filled": true, "fill": "white", "strokeWidth": 1, "size": 100, "opacity": 1},
         "encoding": {"stroke": {"field": "s", "type": "nominal", "scale": {"domain": ["CO₂"], "range": ["#ff1a1a"]},
           "legend": {"legendX": 348.75, "legendY": 258.35, "labelFontSize": 18.5, "labelOffset": 12.75, "labelColor": "#ff1a1a", "symbolFillColor": "white",
                      "symbolType": "M-3.5,0H3.5M0,-1.8L1.05,0L-1.05,0Z"}}}},
        {"transform": [{"filter": "false"}], "mark": {"type": "point", "filled": true, "fill": "white", "strokeWidth": 1, "size": 100, "opacity": 1},
         "encoding": {"stroke": {"field": "s", "type": "nominal", "scale": {"domain": ["C₂H₄"], "range": ["#3a56b0"]},
           "legend": {"legendX": 348.75, "legendY": 281.75, "labelFontSize": 18.5, "labelOffset": 12.75, "labelColor": "#3a56b0", "symbolFillColor": "white",
                      "symbolType": "M-3.5,0H3.5M0,1.8L1.05,0L-1.05,0Z"}}}},
        {"transform": [{"filter": "false"}], "mark": {"type": "point", "filled": true, "fill": "white", "strokeWidth": 1, "size": 100, "opacity": 1},
         "encoding": {"stroke": {"field": "s", "type": "nominal", "scale": {"domain": ["C₂H₆"], "range": ["#000000"]},
           "legend": {"legendX": 348.75, "legendY": 305.15, "labelFontSize": 18.5, "labelOffset": 12.75, "labelColor": "#000000", "symbolFillColor": "white",
                      "symbolType": "M-3.5,0H-0.9M0.95,0H3.5M0.95,0L-0.9,1.05L-0.9,-1.05Z"}}}}
      ],
      "resolve": {"axis": {"x": "independent", "y": "independent"}, "scale": {"shape": "independent", "stroke": "independent"}, "legend": {"shape": "independent", "stroke": "independent"}}
    }
  ]
}
